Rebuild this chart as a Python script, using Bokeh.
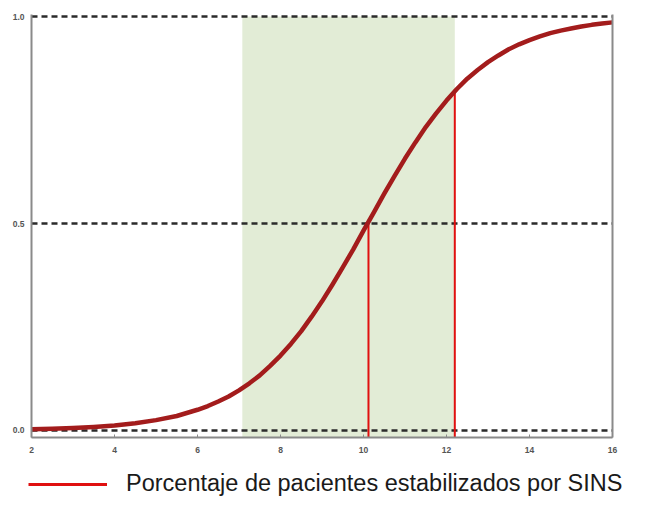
from bokeh.plotting import figure
from bokeh.models import (Range1d, LinearAxis, FixedTicker, PrintfTickFormatter,
                          BoxAnnotation, Legend, LegendItem)
from bokeh.embed import file_html
from bokeh.resources import INLINE

# ---- data ----
x_vals = [2, 2.5, 3, 3.5, 4, 4.5, 5, 5.5, 6, 6.25, 6.5, 6.75, 7, 7.25, 7.5, 7.75,
          8, 8.25, 8.5, 8.75, 9, 9.25, 9.5, 9.75, 10, 10.25, 10.5, 10.75, 11,
          11.25, 11.5, 11.75, 12, 12.25, 12.5, 12.75, 13, 13.25, 13.5, 13.75,
          14, 14.25, 14.5, 14.75, 15, 15.25, 15.5, 15.75, 16]
y_vals = [0.003, 0.004, 0.006, 0.0085, 0.012, 0.0175, 0.025, 0.035, 0.050, 0.059,
          0.070, 0.082, 0.097, 0.114, 0.133, 0.156, 0.181, 0.209, 0.240, 0.275,
          0.312, 0.352, 0.394, 0.437, 0.483, 0.527, 0.572, 0.615, 0.657, 0.696,
          0.733, 0.766, 0.797, 0.825, 0.850, 0.871, 0.890, 0.906, 0.921, 0.933,
          0.943, 0.952, 0.960, 0.966, 0.971, 0.976, 0.980, 0.983, 0.986]
ref_levels = [0.0, 0.5, 1.0]
shade_start, shade_end = 7.08, 12.2
marker_x = [10.12, 12.2]
marker_y = [0.5, 0.823]
x_ticks = [2, 4, 6, 8, 10, 12, 14, 16]
y_ticks = [0.0, 0.5, 1.0]
legend_label = "Porcentaje de pacientes estabilizados por SINS"

p = figure(width=630, height=462, output_backend="svg", toolbar_location=None,
           x_range=Range1d(2, 16), y_range=Range1d(-0.017, 1.005),
           min_border_left=31, min_border_right=18, min_border_top=14,
           min_border_bottom=25)
p.xgrid.visible = False
p.ygrid.visible = False
p.outline_line_color = None
p.background_fill_color = "white"

# shaded band
p.add_layout(BoxAnnotation(left=shade_start, right=shade_end, top=1.0,
                           fill_color="#e2ecd6", fill_alpha=1.0, line_color=None,
                           level="underlay"))

# dashed reference lines
for lv in ref_levels:
    p.line([x_ticks[0], x_ticks[-1]], [lv, lv], line_color="#2b2b2b",
           line_width=2.5, line_dash="6 4")

# red vertical markers
lower = p.y_range.start
p.segment(x0=marker_x, y0=[lower] * len(marker_x), x1=marker_x, y1=marker_y,
          line_color="#e01010", line_width=2)

# curve
p.line(x_vals, y_vals, line_color="#a31c1c", line_width=4.5,
       line_join="round", line_cap="round")

# axes styling
for ax, ticks in ((p.xaxis[0], x_ticks), (p.yaxis[0], y_ticks)):
    ax.ticker = FixedTicker(ticks=ticks)
    ax.axis_line_color = "#8a8a8a"
    ax.axis_line_width = 2
    ax.major_label_text_font = "Liberation Sans"
    ax.major_label_text_font_size = "8.5px"
    ax.major_label_text_font_style = "bold"
    ax.major_label_text_color = "#555555"
    ax.minor_tick_line_color = None
p.xaxis[0].major_tick_in = 3
p.xaxis[0].major_tick_out = 0
p.xaxis[0].major_tick_line_color = "#8a8a8a"
p.xaxis[0].major_label_standoff = 9
p.yaxis[0].major_tick_line_color = None
p.yaxis[0].major_tick_out = 0
p.yaxis[0].major_label_standoff = 7
p.yaxis[0].formatter = PrintfTickFormatter(format="%.1f")

right_axis = LinearAxis(axis_line_color="#8a8a8a", axis_line_width=2,
                        ticker=FixedTicker(ticks=[]),
                        major_tick_line_color=None, minor_tick_line_color=None,
                        major_tick_out=0, major_label_standoff=0,
                        major_label_text_font_size="0px")
p.add_layout(right_axis, "right")

# legend strip (separate small figure, its own root so frames are not aligned)
lg = figure(width=630, height=35, output_backend="svg", toolbar_location=None,
            x_range=Range1d(0, 1), y_range=Range1d(0, 1),
            min_border=0, outline_line_color=None)
lg.axis.visible = False
lg.grid.visible = False
leg_r = lg.line([shade_start, shade_end], [-5, -5], line_color="#e01010", line_width=3)
legend = Legend(items=[LegendItem(label=legend_label, renderers=[leg_r])],
                location=(28, 0), orientation="horizontal",
                margin=0, padding=0, spacing=0,
                glyph_width=79, glyph_height=26, label_height=26,
                label_standoff=19,
                label_text_font="Liberation Sans", label_text_font_size="23.5px",
                label_text_color="#1a1a1a",
                border_line_color=None, background_fill_alpha=0)
lg.add_layout(legend, "center")

open("out.html", "w").write(file_html([p, lg], INLINE))
